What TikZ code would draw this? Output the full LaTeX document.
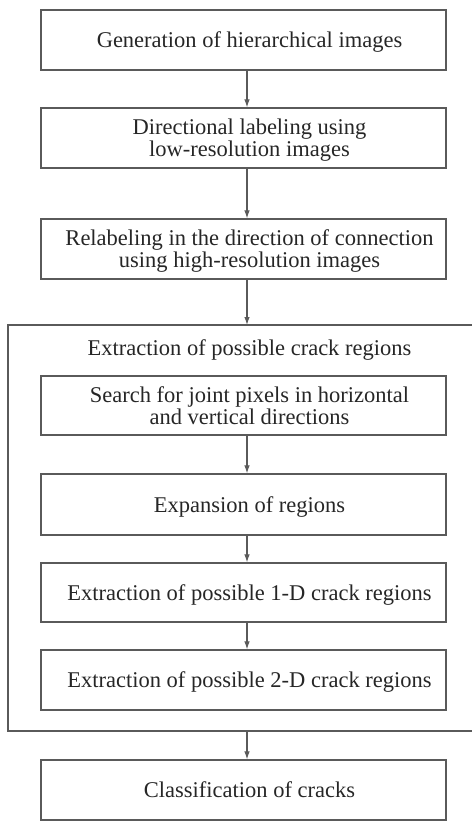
\documentclass[tikz,border=0pt]{standalone}
\usepackage{fontspec}
\setmainfont{Liberation Serif}
\usetikzlibrary{arrows.meta}
\definecolor{linegray}{HTML}{5A5A5A}
\definecolor{inkgray}{HTML}{262626}
% box text: lines centred, block set slightly right of and below the box centre
\newcommand\boxtext[1]{\hspace*{12pt}\raisebox{0pt}[\dimexpr\height+6pt\relax][\depth]{\begin{tabular}{@{}c@{}}#1\end{tabular}}}
\begin{document}
\begin{tikzpicture}[x=1pt,y=-1pt,
  stepbox/.style={draw=linegray, line width=1.2pt, rectangle, minimum width=405pt,
    text=inkgray, font=\fontsize{22.5}{22}\selectfont, inner sep=0pt},
  arr/.style={draw=linegray, line width=1.1pt, -{Latex[length=8pt,width=5.5pt]}},
  frame/.style={draw=linegray, line width=1.2pt}]
\useasboundingbox (0,0) rectangle (471,821);

% column of steps
\node[stepbox, minimum height=60pt] (gen) at (243.5,40) {\boxtext{Generation of hierarchical images}};
\node[stepbox, minimum height=60pt] (dir) at (243.5,138) {\boxtext{Directional labeling using\\low-resolution images}};
\node[stepbox, minimum height=60pt] (rel) at (243.5,249) {\boxtext{Relabeling in the direction of connection\\using high-resolution images}};

% enclosing group
\coordinate (outtop) at (247,325);
\coordinate (outbot) at (247,731);
\draw[frame] (475,325) -- (8,325) -- (8,731) -- (475,731);
\node[text=inkgray, font=\fontsize{22.5}{22}\selectfont, inner sep=0pt] (grp) at (249.5,350) {Extraction of possible crack regions};

\node[stepbox, minimum height=59pt] (srch) at (243.5,405.5) {\boxtext{Search for joint pixels in horizontal\\and vertical directions}};
\node[stepbox, minimum height=61pt] (exp) at (243.5,504.5) {\boxtext{Expansion of regions}};
\node[stepbox, minimum height=59pt] (one) at (243.5,592.5) {\boxtext{Extraction of possible 1-D crack regions}};
\node[stepbox, minimum height=60pt] (two) at (243.5,680) {\boxtext{Extraction of possible 2-D crack regions}};

\node[stepbox, minimum height=60pt] (cls) at (243.5,790) {\boxtext{Classification of cracks}};

% connectors
\coordinate (ax) at (247,0);
\draw[arr] (gen.south -| ax) -- (dir.north -| ax);
\draw[arr] (dir.south -| ax) -- (rel.north -| ax);
\draw[arr] (rel.south -| ax) -- (outtop);
\draw[arr] (srch.south -| ax) -- (exp.north -| ax);
\draw[arr] (exp.south -| ax) -- (one.north -| ax);
\draw[arr] (one.south -| ax) -- (two.north -| ax);
\draw[arr] (outbot) -- (cls.north -| ax);
\end{tikzpicture}
\end{document}
